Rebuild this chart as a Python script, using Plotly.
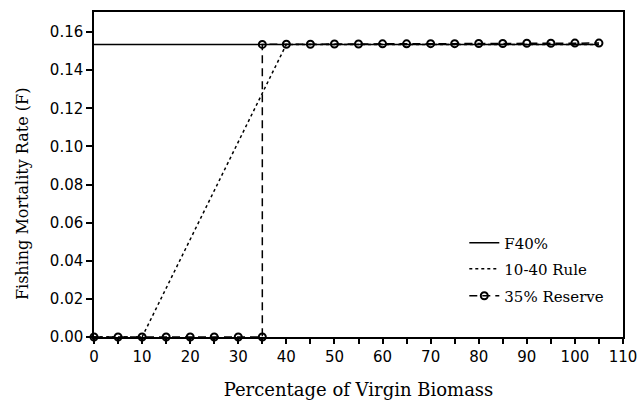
import plotly.graph_objects as go

# Data
f40_x = [0, 105]
f40_F = [0.1535, 0.1535]

rule_x = [0, 10, 40, 105]
rule_F = [0.0, 0.0, 0.1535, 0.1535]

reserve_x = [0, 5, 10, 15, 20, 25, 30, 35, 35, 40, 45, 50, 55, 60, 65, 70, 75, 80, 85, 90, 95, 100, 105]
reserve_F = [0, 0, 0, 0, 0, 0, 0, 0,
             0.1535, 0.1536, 0.1536, 0.1537, 0.1537, 0.1538, 0.1538, 0.1539, 0.1539,
             0.1540, 0.1540, 0.1541, 0.1541, 0.1542, 0.1542]

x_ticks = [0, 10, 20, 30, 40, 50, 60, 70, 80, 90, 100, 110]
y_ticks = [0.00, 0.02, 0.04, 0.06, 0.08, 0.10, 0.12, 0.14, 0.16]

serif = "DejaVu Serif"
sans = "DejaVu Sans"

fig = go.Figure()
fig.add_trace(go.Scatter(x=f40_x, y=f40_F, mode="lines", name="F40%", legend="legend",
                         line=dict(color="black", width=1.5), cliponaxis=False))
fig.add_trace(go.Scatter(x=rule_x, y=rule_F, mode="lines", name="10-40 Rule", legend="legend2",
                         line=dict(color="black", width=1.5, dash="3px,3px"), cliponaxis=False))
fig.add_trace(go.Scatter(x=reserve_x, y=reserve_F, mode="lines+markers", name="35% Reserve",
                         legend="legend3",
                         line=dict(color="black", width=1.5, dash="8px,5px"),
                         marker=dict(symbol="circle-open", size=7, color="black",
                                     line=dict(width=2, color="black")),
                         cliponaxis=False))

leg_common = dict(x=0.70, xanchor="left", yanchor="middle", bgcolor="rgba(0,0,0,0)",
                  font=dict(family=serif, size=15, color="black"))

fig.update_layout(
    width=643, height=406,
    margin=dict(l=94, r=20, t=12, b=69),
    paper_bgcolor="white", plot_bgcolor="white",
    showlegend=True,
    legend=dict(y=0.289, **leg_common),
    legend2=dict(y=0.209, **leg_common),
    legend3=dict(y=0.126, **leg_common),
    font=dict(family=sans, color="black"),
    annotations=[dict(text="Fishing Mortality Rate (F)", textangle=-90,
                      xref="paper", yref="paper", x=-0.136, y=0.44,
                      xanchor="center", yanchor="middle", showarrow=False,
                      font=dict(family=serif, size=16, color="black"))],
)
fig.update_xaxes(
    range=[0, 110], tickvals=x_ticks, ticktext=[str(v) for v in x_ticks],
    ticks="outside", ticklen=5, tickwidth=1.5, tickcolor="black",
    minor=dict(dtick=5, ticks="outside", ticklen=5, tickwidth=1.5, tickcolor="black"),
    showline=True, linecolor="black", linewidth=1.5, mirror=True,
    showgrid=False, zeroline=False, automargin=False,
    tickfont=dict(family=sans, size=15, color="black"),
    title=dict(text="Percentage of Virgin Biomass", font=dict(family=serif, size=18, color="black"), standoff=19),
)
fig.update_yaxes(
    range=[0, 0.1705], tickvals=y_ticks, ticktext=[f"{v:.2f}" for v in y_ticks],
    ticks="outside", ticklen=6, tickwidth=1.5, tickcolor="black",
    showline=True, linecolor="black", linewidth=1.5, mirror=True,
    showgrid=False, zeroline=False, automargin=False,
    tickfont=dict(family=sans, size=15, color="black"),
)

fig.write_html("out.html")
